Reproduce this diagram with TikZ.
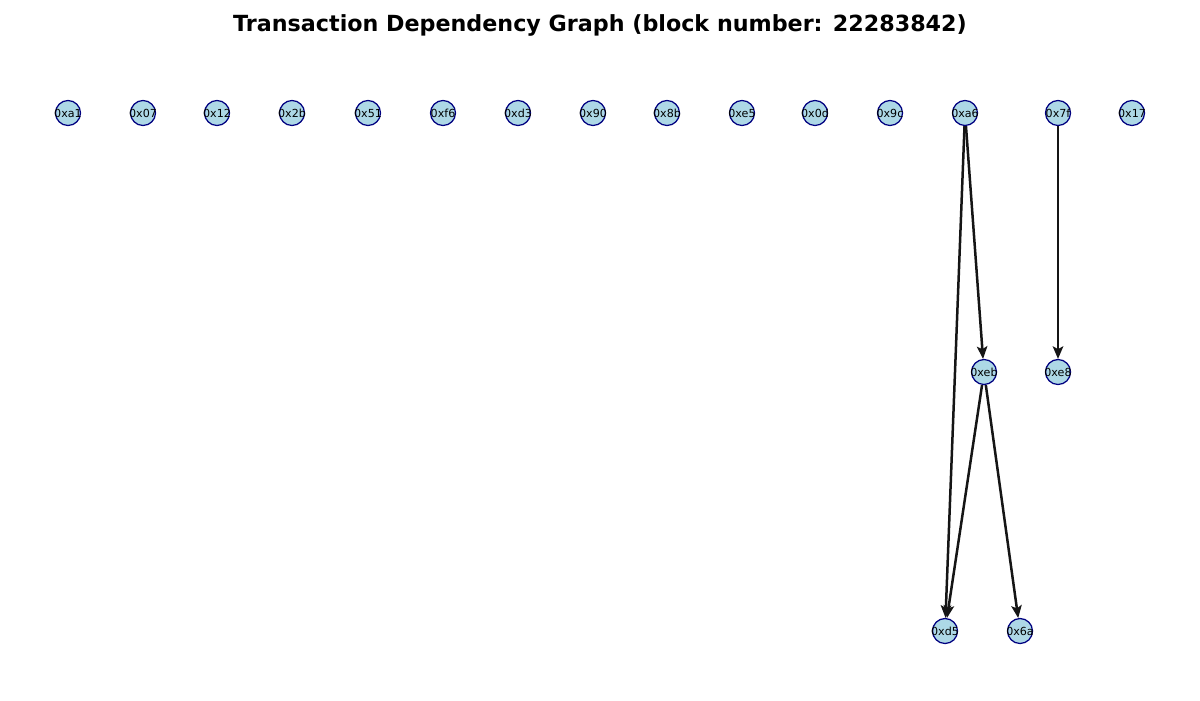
\documentclass[tikz,border=0pt]{standalone}
\usepackage{fontspec}
\setmainfont{DejaVu Sans}
\usetikzlibrary{arrows.meta}
\definecolor{nodefill}{HTML}{ADD8E6}
\definecolor{edgecol}{HTML}{151515}
\newcommand{\txlabel}[1]{\makebox[0pt]{#1}}
\begin{document}
\begin{tikzpicture}[x=0.72pt,y=-0.72pt,
  tx/.style={circle,draw=blue!50!black,fill=nodefill,line width=0.9pt,minimum size=25*0.72pt,inner sep=0pt,font=\fontsize{8}{9}\selectfont},
  dep/.style={draw=edgecol,line width=1.8pt,-{Stealth[length=9pt,width=7.5pt,inset=2pt]}}]
\useasboundingbox (0,0) rectangle (1200,700);
\node[font=\bfseries\fontsize{16}{18}\selectfont] (title) at (600,25) {Transaction Dependency Graph (block number: 22283842)};
\node[tx] (a1) at (68,113) {\txlabel{0xa1}};
\node[tx] (n07) at (143,113) {\txlabel{0x07}};
\node[tx] (n12) at (217,113) {\txlabel{0x12}};
\node[tx] (n2b) at (292,113) {\txlabel{0x2b}};
\node[tx] (n51) at (368,113) {\txlabel{0x51}};
\node[tx] (f6) at (443,113) {\txlabel{0xf6}};
\node[tx] (d3) at (518,113) {\txlabel{0xd3}};
\node[tx] (n90) at (593,113) {\txlabel{0x90}};
\node[tx] (n8b) at (667,113) {\txlabel{0x8b}};
\node[tx] (e5) at (742,113) {\txlabel{0xe5}};
\node[tx] (n0d) at (815,113) {\txlabel{0x0d}};
\node[tx] (n9c) at (890,113) {\txlabel{0x9c}};
\node[tx] (a6) at (965,113) {\txlabel{0xa6}};
\node[tx] (n7f) at (1058,113) {\txlabel{0x7f}};
\node[tx] (n17) at (1132,113) {\txlabel{0x17}};
\node[tx] (eb) at (984,372) {\txlabel{0xeb}};
\node[tx] (e8) at (1058,372) {\txlabel{0xe8}};
\node[tx] (d5) at (945,631) {\txlabel{0xd5}};
\node[tx] (n6a) at (1020,631) {\txlabel{0x6a}};
\draw[dep] (a6) -- (d5);
\draw[dep] (a6) -- (eb);
\draw[dep] (eb) -- (d5);
\draw[dep] (eb) -- (n6a);
\draw[dep] (n7f) -- (e8);
\end{tikzpicture}
\end{document}
